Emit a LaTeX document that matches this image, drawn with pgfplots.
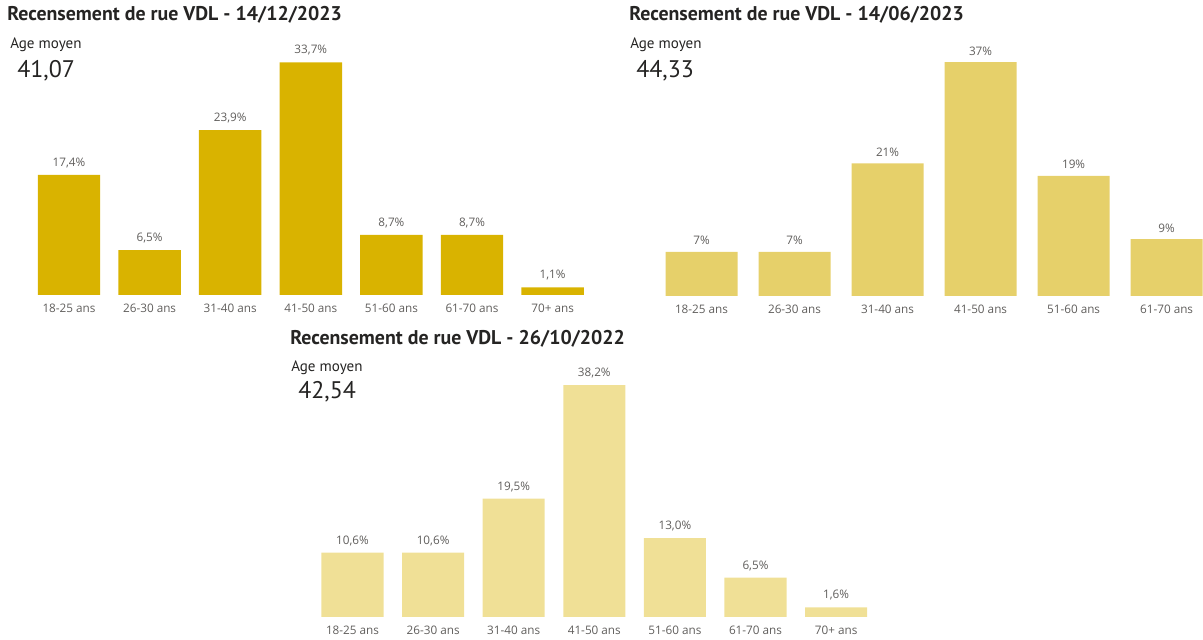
\documentclass[border=0pt]{standalone}
\usepackage{fontspec}
\usepackage{pgfplots}
\pgfplotsset{compat=1.18}
\setmainfont{Open Sans}
\newfontfamily\din{PT Sans}
\definecolor{c1}{HTML}{D9B300}
\definecolor{c2}{HTML}{E6D06A}
\definecolor{c3}{HTML}{F0E096}
\definecolor{txt}{HTML}{252423}
\definecolor{lab}{HTML}{605E5C}
\pgfplotsset{rbar/.style={
  scale only axis, anchor=south west, axis line style={draw=none}, major tick length=0pt,
  ytick=\empty, xtick=data, ymin=0, xmin=-0.5, enlargelimits=false,
  ybar, bar width=0.775,
  xticklabel style={font=\fontsize{8.8}{10}\selectfont, text=lab, inner sep=0pt, yshift=-6.5pt, anchor=north},
  nodes near coords={\pgfplotspointmeta\%},
  point meta=explicit symbolic,
  every node near coord/.append style={font=\fontsize{8.8}{10}\selectfont, text=lab, inner sep=0pt, anchor=south, yshift=5pt},
  xticklabels={18-25 ans,26-30 ans,31-40 ans,41-50 ans,51-60 ans,61-70 ans,70+ ans},
  clip=false,
}}
\begin{document}
\begin{tikzpicture}
% Chart 1
\begin{axis}[rbar, at={(21.525pt,258pt)}, width=423.15pt, height=191.5pt, xmax=6.5, ymax=37]
\addplot[fill=c1, draw=none] coordinates {(0,17.4)[17,4] (1,6.5)[6,5] (2,23.9)[23,9] (3,33.7)[33,7] (4,8.7)[8,7] (5,8.7)[8,7] (6,1.1)[1,1]};
\end{axis}
% Chart 2
\begin{axis}[rbar, at={(491.25pt,257.25pt)}, width=410.9pt, height=189.6pt, xmax=5.39, ymax=40, bar width=0.774]
\addplot[fill=c2, draw=none] coordinates {(0,7)[7] (1,7)[7] (2,21)[21] (3,37)[37] (4,19)[19] (5,9)[9]};
\end{axis}
% Chart 3
\begin{axis}[rbar, at={(234.15pt,16.5pt)}, width=423.15pt, height=182.1pt, xmax=6.5, ymax=40, bar width=0.77]
\addplot[fill=c3, draw=none] coordinates {(0,10.6)[10,6] (1,10.6)[10,6] (2,19.5)[19,5] (3,38.2)[38,2] (4,13.0)[13,0] (5,6.5)[6,5] (6,1.6)[1,6]};
\end{axis}
\begin{scope}[x=0.75pt,y=0.75pt]
\path (0,0) rectangle (1203,639);
\node[anchor=base west, inner sep=0pt, font=\din\bfseries\fontsize{14.9}{17}\selectfont, text=txt] at (7,618) {Recensement de rue VDL - 14/12/2023};
\node[anchor=base west, inner sep=0pt, font=\din\fontsize{11.3}{13}\selectfont, text=txt] at (10,590) {Age moyen};
\node[anchor=base west, inner sep=0pt, font=\din\fontsize{18}{21}\selectfont, text=txt] at (17,561) {41,07};
\node[anchor=base west, inner sep=0pt, font=\din\bfseries\fontsize{14.9}{17}\selectfont, text=txt] at (629,618) {Recensement de rue VDL - 14/06/2023};
\node[anchor=base west, inner sep=0pt, font=\din\fontsize{11.3}{13}\selectfont, text=txt] at (630,590) {Age moyen};
\node[anchor=base west, inner sep=0pt, font=\din\fontsize{18}{21}\selectfont, text=txt] at (636,561) {44,33};
\node[anchor=base west, inner sep=0pt, font=\din\bfseries\fontsize{14.9}{17}\selectfont, text=txt] at (290,294) {Recensement de rue VDL - 26/10/2022};
\node[anchor=base west, inner sep=0pt, font=\din\fontsize{11.3}{13}\selectfont, text=txt] at (291,267) {Age moyen};
\node[anchor=base west, inner sep=0pt, font=\din\fontsize{18}{21}\selectfont, text=txt] at (298,240) {42,54};
\end{scope}
\end{tikzpicture}
\end{document}
